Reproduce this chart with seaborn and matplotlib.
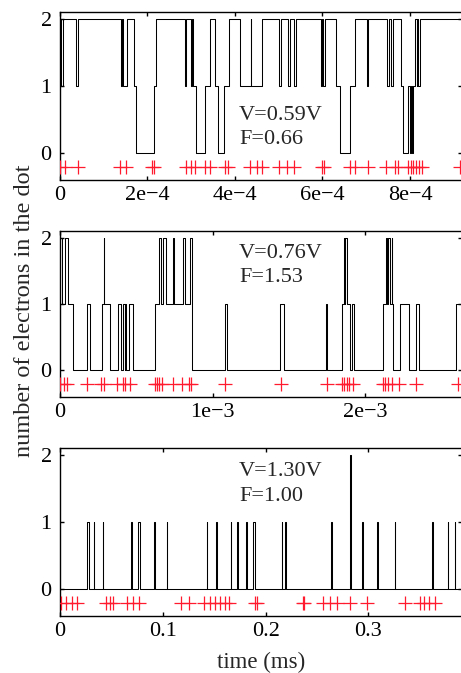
import numpy as np
import pandas as pd
import matplotlib
matplotlib.use("Agg")
import matplotlib.pyplot as plt
import seaborn as sns

# ---- V = 0.59 V : switching times (units of 1e-4) and dot occupation after each switch
t_a = [0.00, 0.03, 0.06, 0.37, 0.41, 1.39, 1.41, 1.43, 1.54, 1.69,
       1.74, 2.16, 2.19, 2.85, 2.89, 3.00, 3.02, 3.04, 3.10, 3.31,
       3.44, 3.54, 3.61, 3.76, 3.86, 4.11, 4.36, 4.37, 4.62, 5.00,
       5.06, 5.21, 5.25, 5.36, 5.40, 5.97, 5.99, 6.02, 6.05, 6.32,
       6.39, 6.62, 6.74, 7.02, 7.04, 7.48, 7.52, 7.57, 7.61, 7.80,
       7.85, 7.95, 7.99, 8.02, 8.05, 8.07, 8.12, 8.15, 8.17, 8.19,
       8.22, 9.19]
n_a = [2, 1, 2, 1, 2, 1, 2, 1, 2, 1,
       0, 1, 2, 1, 2, 1, 2, 1, 0, 1,
       2, 1, 0, 1, 2, 1, 2, 1, 2, 1,
       2, 1, 2, 1, 2, 1, 2, 1, 2, 1,
       0, 1, 2, 1, 2, 1, 2, 1, 2, 1,
       0, 1, 0, 1, 0, 1, 2, 1, 2, 1,
       2, 2]
ev_a = [0.00, 0.11, 0.42, 1.38, 1.50, 2.11, 2.15, 2.87, 2.99, 3.09,
        3.31, 3.42, 3.78, 3.84, 4.35, 4.50, 4.62, 5.01, 5.18, 5.36,
        5.99, 6.03, 6.63, 6.75, 7.03, 7.46, 7.66, 7.73, 7.95, 8.02,
        8.07, 8.14, 8.21, 8.27, 9.14]

# ---- V = 0.76 V : switching times (units of 1e-3)
t_b = [0.000, 0.016, 0.033, 0.052, 0.085, 0.179, 0.195, 0.275, 0.287, 0.290,
       0.326, 0.378, 0.400, 0.416, 0.423, 0.426, 0.436, 0.452, 0.481, 0.625,
       0.647, 0.664, 0.675, 0.697, 0.741, 0.746, 0.807, 0.820, 0.850, 0.863,
       0.868, 1.080, 1.097, 1.441, 1.469, 1.746, 1.753, 1.851, 1.860, 1.866,
       1.871, 1.884, 1.900, 1.917, 1.926, 2.118, 2.136, 2.144, 2.151, 2.167,
       2.174, 2.179, 2.184, 2.228, 2.287, 2.336, 2.352, 2.597, 2.636]
n_b = [2, 1, 2, 1, 0, 1, 0, 1, 2, 1,
       0, 1, 0, 1, 0, 1, 0, 1, 0, 1,
       2, 1, 2, 1, 2, 1, 2, 1, 2, 1,
       0, 1, 0, 1, 0, 1, 0, 1, 2, 1,
       2, 1, 0, 1, 0, 1, 2, 1, 2, 1,
       2, 1, 0, 1, 0, 1, 0, 1, 1]
ev_b = [0.003, 0.023, 0.046, 0.180, 0.272, 0.289, 0.374, 0.414, 0.428, 0.456,
        0.626, 0.638, 0.649, 0.669, 0.738, 0.800, 0.843, 0.859, 1.085, 1.446,
        1.751, 1.846, 1.862, 1.879, 1.892, 1.918, 2.120, 2.134, 2.151, 2.174,
        2.223, 2.334, 2.613]

# ---- V = 1.30 V : short occupation pulses (ms)
pulse_c = [0.0265, 0.0328, 0.0418, 0.0694, 0.0757, 0.0919, 0.1036, 0.1425,
           0.1515, 0.1661, 0.1722, 0.1809, 0.1880, 0.2155, 0.2192, 0.2633,
           0.2821, 0.2941, 0.3086, 0.3257, 0.3621, 0.3769, 0.3838]
width_c = [0.0018, 0.0005, 0.0005, 0.0005, 0.0018, 0.0005, 0.0005, 0.0005,
           0.0010, 0.0005, 0.0005, 0.0005, 0.0018, 0.0005, 0.0005, 0.0010,
           0.0005, 0.0005, 0.0005, 0.0005, 0.0005, 0.0005, 0.0005]
height_c = [1, 1, 1, 1, 1, 1, 1, 1, 1, 1, 1, 1, 1, 1, 1, 1,
            2, 1, 1, 1, 1, 1, 1]
ev_c = [0.0005, 0.0061, 0.0117, 0.0170, 0.0443, 0.0484, 0.0513, 0.0652,
        0.0713, 0.0773, 0.1174, 0.1255, 0.1396, 0.1459, 0.1508, 0.1556,
        0.1602, 0.1641, 0.1899, 0.1916, 0.2359, 0.2376, 0.2560, 0.2625,
        0.2695, 0.2824, 0.2989, 0.3354, 0.3497, 0.3543, 0.3591, 0.3646]
t_end_c = 0.391

labels_v = ["V=0.59V", "V=0.76V", "V=1.30V"]
labels_f = ["F=0.66", "F=1.53", "F=1.00"]

xticks_a = [0, 2e-4, 4e-4, 6e-4, 8e-4]
xticklabels_a = ["0", "2e\u22124", "4e\u22124", "6e\u22124", "8e\u22124"]
xticks_b = [0, 1e-3, 2e-3]
xticklabels_b = ["0", "1e\u22123", "2e\u22123"]
xticks_c = [0, 0.1, 0.2, 0.3]
xticklabels_c = ["0", "0.1", "0.2", "0.3"]
yticks = [0, 1, 2]

EVENT_Y = -0.2

# build the step tables
df_a = pd.DataFrame({"t": np.array(t_a) * 1e-4, "n": n_a})
df_b = pd.DataFrame({"t": np.array(t_b) * 1e-3, "n": n_b})
tc, nc = [0.0], [0]
for s, w, h in zip(pulse_c, width_c, height_c):
    tc += [s, s + w]
    nc += [h, 0]
tc.append(t_end_c)
nc.append(0)
df_c = pd.DataFrame({"t": tc, "n": nc})

ev_tables = [
    pd.DataFrame({"t": np.array(ev_a) * 1e-4, "y": EVENT_Y}),
    pd.DataFrame({"t": np.array(ev_b) * 1e-3, "y": EVENT_Y}),
    pd.DataFrame({"t": ev_c, "y": EVENT_Y}),
]

sns.set_theme(style="ticks")
plt.rcParams["font.family"] = ["Liberation Serif", "DejaVu Serif"]
FS = 16

fig = plt.figure(figsize=(4.61, 6.73), dpi=100)
W, H = 461.0, 673.0
L, R = 60.0, 462.0
rects = [(12, 180), (231, 397), (448, 616)]
xlims = [9.19e-4, 2.636e-3, 0.391]
ticks = [(xticks_a, xticklabels_a), (xticks_b, xticklabels_b), (xticks_c, xticklabels_c)]
text_y = [(0.357, 0.214), (0.836, 0.695), (0.833, 0.685)]

for i, (df, ev) in enumerate(zip([df_a, df_b, df_c], ev_tables)):
    top, bot = rects[i]
    ax = fig.add_axes([L / W, (H - bot) / H, (R - L) / W, (bot - top) / H])
    sns.lineplot(data=df, x="t", y="n", drawstyle="steps-post", estimator=None,
                 sort=False, color="black", linewidth=0.75, ax=ax)
    sns.scatterplot(data=ev, x="t", y="y", marker="+", color="#ff1a2e", s=95,
                    linewidth=0.9, ax=ax, zorder=3)
    ax.set_xlim(0, xlims[i])
    ax.set_ylim(-0.4, 2.1)
    ax.set_xticks(ticks[i][0])
    ax.set_xticklabels(ticks[i][1])
    ax.set_yticks(yticks)
    ax.set_yticklabels([str(v) for v in yticks])
    ax.set_xlabel("")
    ax.set_ylabel("")
    ax.tick_params(direction="in", top=True, right=True, length=3, width=1.0,
                   labelsize=FS, color="black", labelcolor="black")
    ax.tick_params(axis="x", pad=4)
    ax.tick_params(axis="y", pad=6)
    for sp in ax.spines.values():
        sp.set_visible(True)
        sp.set_linewidth(1.0)
        sp.set_color("black")
    ax.text(0.445, text_y[i][0], labels_v[i], transform=ax.transAxes,
            fontsize=FS, va="baseline", ha="left")
    ax.text(0.445, text_y[i][1], labels_f[i], transform=ax.transAxes,
            fontsize=FS, va="baseline", ha="left")

fig.text(261 / W, 1 - 668 / H, "time (ms)", ha="center", va="baseline", fontsize=16.5)
fig.text(25 / W, 1 - 311 / H, "number of electrons in the dot", rotation=90,
         ha="center", va="center", fontsize=17.5)

fig.savefig("out.png", dpi=100)
